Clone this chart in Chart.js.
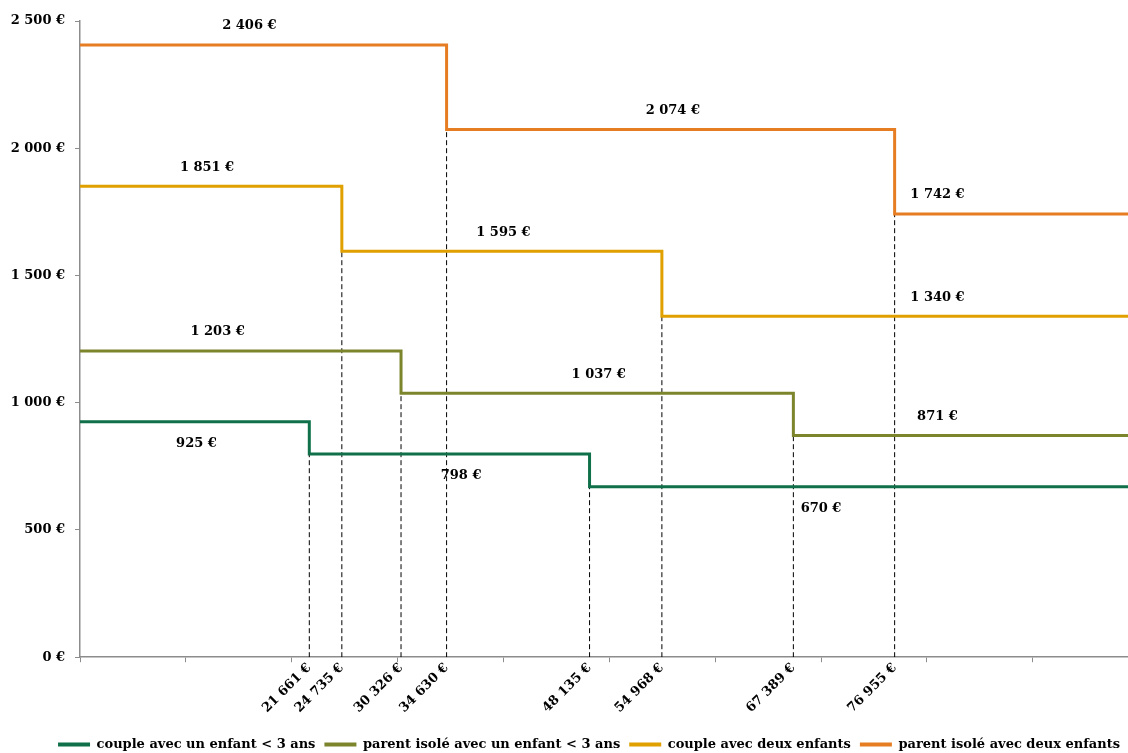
<!DOCTYPE html>
<html>
<head>
<meta charset="utf-8">
<script src="https://cdn.jsdelivr.net/npm/chart.js@4/dist/chart.umd.min.js"></script>
<style>
  html, body { margin: 0; padding: 0; background: #fff; }
  #wrap { width: 1128px; height: 753px; position: relative; }
</style>
</head>
<body>
<div id="wrap"><canvas id="graph"></canvas></div>
<script>
// séries (montants mensuels) et seuils de revenus
const seriesNames = [
  'couple avec un enfant < 3 ans',
  'parent isolé avec un enfant < 3 ans',
  'couple avec deux enfants',
  'parent isolé avec deux enfants'
];
const coupleUnEnfant = [925, 798, 670];
const parentUnEnfant = [1203, 1037, 871];
const coupleDeuxEnfants = [1851, 1595, 1340];
const parentDeuxEnfants = [2406, 2074, 1742];

const seuilsCoupleUnEnfant = [21661, 48135];
const seuilsParentUnEnfant = [30326, 67389];
const seuilsCoupleDeuxEnfants = [24735, 54968];
const seuilsParentDeuxEnfants = [34630, 76955];

// point de chaque palier qui porte l'étiquette
const etiquettesCoupleUnEnfant = [11000, 36000, 70000];
const etiquettesParentUnEnfant = [13000, 49000, 81000];
const etiquettesCoupleDeuxEnfants = [12000, 40000, 81000];
const etiquettesParentDeuxEnfants = [16000, 56000, 81000];

// tick labels de l'axe des revenus
const seuils = [21661, 24735, 30326, 34630, 48135, 54968, 67389, 76955];
const revenuMax = 99000;
const yTicks = [0, 500, 1000, 1500, 2000, 2500];

const couleurs = ['#0f7049', '#7c842c', '#dfa000', '#e67d22'];
const valeurs = [coupleUnEnfant, parentUnEnfant, coupleDeuxEnfants, parentDeuxEnfants];
const seuilsSeries = [seuilsCoupleUnEnfant, seuilsParentUnEnfant, seuilsCoupleDeuxEnfants, seuilsParentDeuxEnfants];
const etiquettes = [etiquettesCoupleUnEnfant, etiquettesParentUnEnfant, etiquettesCoupleDeuxEnfants, etiquettesParentDeuxEnfants];
const dessous = [true, false, false, false];

const police = '"DejaVu Serif", "Liberation Serif", serif';

function euro(v) {
  return String(v).replace(/\B(?=(\d{3})+(?!\d))/g, '\u00a0') + '\u00a0€';
}

var datasets = [];
// paliers
valeurs.forEach(function(vals, i) {
  var s = seuilsSeries[i];
  datasets.push({
    label: seriesNames[i],
    data: [
      { x: 0, y: vals[0] },
      { x: s[0], y: vals[1] },
      { x: s[1], y: vals[2] },
      { x: revenuMax, y: vals[2] }
    ],
    stepped: true,
    borderColor: couleurs[i],
    backgroundColor: couleurs[i],
    borderWidth: 3,
    pointRadius: 0,
    fill: false
  });
});
// pointillés verticaux sous chaque seuil
valeurs.forEach(function(vals, i) {
  seuilsSeries[i].forEach(function(s, j) {
    datasets.push({
      label: '',
      data: [{ x: s, y: 0 }, { x: s, y: vals[j + 1] }],
      borderColor: '#000',
      borderWidth: 1,
      borderDash: [5, 3],
      pointRadius: 0,
      fill: false
    });
  });
});

// étiquettes des montants
const valeursPlugin = {
  id: 'valeurs',
  afterDatasetsDraw(chart) {
    const ctx = chart.ctx;
    const xs = chart.scales.x, ys = chart.scales.y;
    ctx.save();
    ctx.font = 'bold 13px ' + police;
    ctx.fillStyle = '#000';
    ctx.textAlign = 'center';
    ctx.textBaseline = 'middle';
    valeurs.forEach(function(vals, i) {
      vals.forEach(function(v, j) {
        const px = xs.getPixelForValue(etiquettes[i][j]);
        const py = ys.getPixelForValue(v) + (dessous[i] ? 22 : -19);
        ctx.fillText(euro(v), px, py);
      });
    });
    ctx.restore();
  }
};

// la légende est un peu décalée vers la droite et le bas dans l'original
const legendePlugin = {
  id: 'legendeDecalee',
  afterLayout(chart) {
    const l = chart.legend;
    l.left += 25; l.right += 25;
    l.top += 8; l.bottom += 8;
  }
};

const ctx = document.getElementById('graph').getContext('2d');
new Chart(ctx, {
  type: 'line',
  data: { datasets: datasets },
  plugins: [valeursPlugin, legendePlugin],
  options: {
    responsive: true,
    maintainAspectRatio: false,
    animation: false,
    layout: { padding: { top: 21, right: 0, left: 0, bottom: 0 } },
    plugins: {
      tooltip: { enabled: false },
      legend: {
        position: 'bottom',
        labels: {
          font: { family: police, size: 13, weight: 'bold' },
          color: '#000',
          boxWidth: 32,
          boxHeight: 4,
          padding: 9,
          filter: function(item) { return item.datasetIndex < 4; },
          generateLabels: function(chart) {
            return Chart.defaults.plugins.legend.labels.generateLabels(chart).map(function(l) {
              l.lineWidth = 0;
              return l;
            });
          }
        }
      }
    },
    scales: {
      x: {
        type: 'linear',
        min: 0,
        max: revenuMax,
        afterBuildTicks: function(scale) {
          var vals = [];
          for (var v = 0; v < revenuMax; v += 10000) vals.push(v);
          vals = vals.concat(seuils).sort(function(a, b) { return a - b; });
          scale.ticks = vals.map(function(v) { return { value: v }; });
        },
        afterFit: function(scale) { scale.height += 7; },
        grid: {
          drawOnChartArea: false,
          tickLength: 5,
          tickColor: function(c) {
            return c.tick && seuils.indexOf(c.tick.value) >= 0 ? 'rgba(0,0,0,0)' : '#8c8c8c';
          }
        },
        border: { color: '#8c8c8c', width: 1.5 },
        ticks: {
          autoSkip: false,
          minRotation: 45,
          maxRotation: 45,
          padding: -2,
          color: '#000',
          font: { family: police, size: 13, weight: 'bold' },
          callback: function(v) { return seuils.indexOf(v) >= 0 ? euro(v) : ''; }
        }
      },
      y: {
        min: 0,
        max: 2500,
        afterBuildTicks: function(scale) {
          scale.ticks = yTicks.map(function(v) { return { value: v }; });
        },
        afterFit: function(scale) { scale.width = 80; },
        grid: { drawOnChartArea: false, tickLength: 5, tickColor: '#8c8c8c' },
        border: { color: '#8c8c8c', width: 1.5 },
        ticks: {
          padding: 10,
          color: '#000',
          font: { family: police, size: 13, weight: 'bold' },
          callback: function(v) { return euro(v); }
        }
      }
    }
  }
});
</script>
</body>
</html>
